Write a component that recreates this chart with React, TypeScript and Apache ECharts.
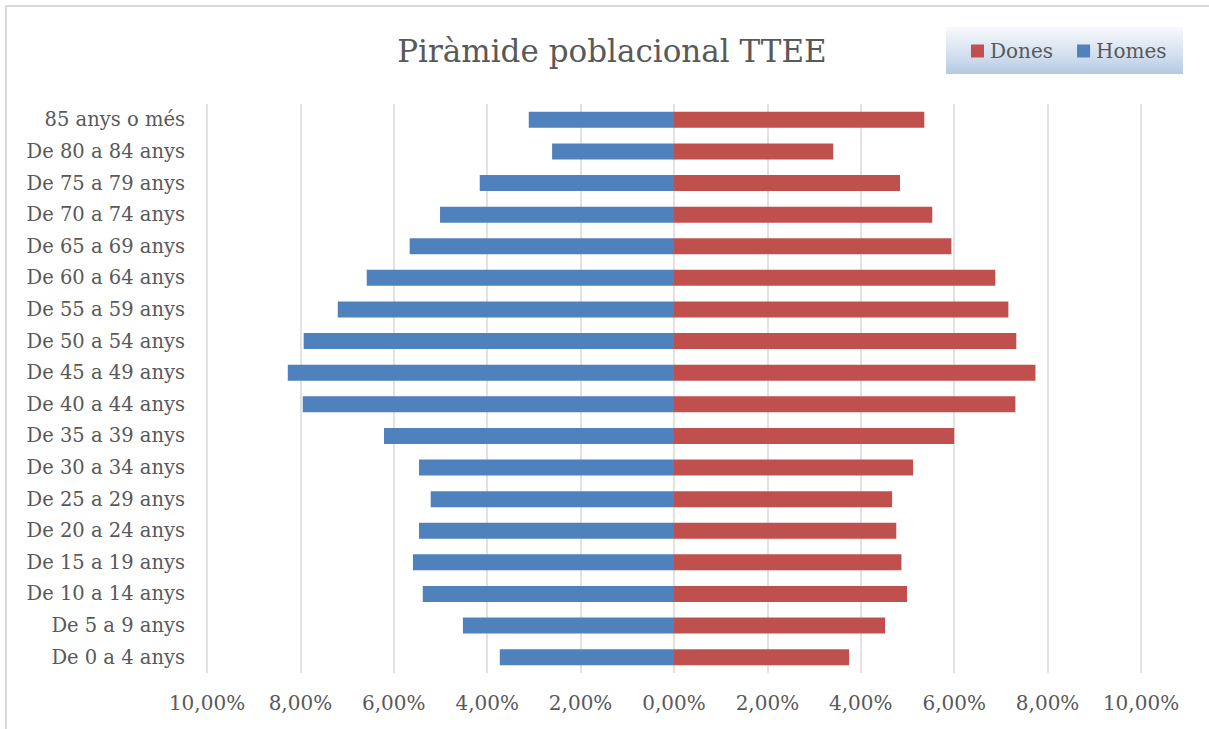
import React, { useEffect, useRef } from "react";
import * as echarts from "echarts";

const categories = [
  "De 0 a 4 anys",
  "De 5 a 9 anys",
  "De 10 a 14 anys",
  "De 15 a 19 anys",
  "De 20 a 24 anys",
  "De 25 a 29 anys",
  "De 30 a 34 anys",
  "De 35 a 39 anys",
  "De 40 a 44 anys",
  "De 45 a 49 anys",
  "De 50 a 54 anys",
  "De 55 a 59 anys",
  "De 60 a 64 anys",
  "De 65 a 69 anys",
  "De 70 a 74 anys",
  "De 75 a 79 anys",
  "De 80 a 84 anys",
  "85 anys o més",
];

// Percentages (Homes drawn to the left as negative values)
const homes = [3.73, 4.52, 5.38, 5.59, 5.46, 5.21, 5.46, 6.21, 7.95, 8.27, 7.93, 7.2, 6.58, 5.66, 5.01, 4.16, 2.61, 3.11];
const dones = [3.75, 4.52, 4.99, 4.87, 4.76, 4.67, 5.12, 6.0, 7.31, 7.74, 7.33, 7.16, 6.88, 5.94, 5.53, 4.84, 3.41, 5.36];

const titleText = "Piràmide poblacional TTEE";
const FONT = "'DejaVu Serif', serif";
const TEXT_COLOR = "#595959";

export default function App() {
  const ref = useRef<HTMLDivElement>(null);

  useEffect(() => {
    document.body.style.margin = "0";
    const chart = echarts.init(ref.current!, null, { renderer: "svg" });
    chart.setOption({
      animation: false,
      backgroundColor: "#ffffff",
      title: {
        text: titleText,
        left: 607,
        textAlign: "center",
        top: 30,
        textStyle: { fontFamily: FONT, fontSize: 31, fontWeight: "normal", color: TEXT_COLOR },
      },
      graphic: [
        {
          type: "rect",
          z: -10,
          shape: { x: 6, y: 6, width: 1215, height: 735 },
          style: { fill: "none", stroke: "#D9D9D9", lineWidth: 2 },
          silent: true,
        },
        {
          type: "rect",
          z: -5,
          shape: { x: 946, y: 27, width: 237, height: 47 },
          style: {
            fill: new echarts.graphic.LinearGradient(0, 0, 0, 1, [
              { offset: 0, color: "#F7F9FC" },
              { offset: 0.6, color: "#D3DFEE" },
              { offset: 1, color: "#B5C9E3" },
            ]),
          },
          silent: true,
        },
      ],
      legend: {
        data: ["Dones", "Homes"],
        left: 971,
        top: 41,
        padding: 0,
        itemWidth: 13,
        itemHeight: 13,
        itemGap: 24,
        icon: "rect",
        textStyle: { fontFamily: FONT, fontSize: 20, color: TEXT_COLOR, lineHeight: 20, padding: [0, 0, 0, 1] },
      },
      grid: { left: 207, right: 68, top: 104, bottom: 56 },
      xAxis: {
        type: "value",
        min: -10,
        max: 10,
        interval: 2,
        axisLine: { show: false },
        axisTick: { show: false },
        splitLine: { show: true, lineStyle: { color: "#D9D9D9", width: 1.5 } },
        axisLabel: {
          margin: 20,
          fontFamily: FONT,
          fontSize: 20,
          color: TEXT_COLOR,
          formatter: (v: number) => Math.abs(v).toFixed(2).replace(".", ",") + "%",
        },
      },
      yAxis: {
        type: "category",
        data: categories,
        axisLine: { show: false },
        axisTick: { show: false },
        axisLabel: { margin: 22, fontFamily: FONT, fontSize: 19.5, color: TEXT_COLOR },
      },
      series: [
        {
          name: "Homes",
          type: "bar",
          data: homes.map((v) => -v),
          barWidth: 16,
          barGap: "-100%",
          itemStyle: { color: "#4F81BD" },
        },
        {
          name: "Dones",
          type: "bar",
          data: dones,
          barWidth: 16,
          itemStyle: { color: "#C0504D" },
        },
      ],
    });
    return () => chart.dispose();
  }, []);

  return <div ref={ref} style={{ width: 1209, height: 729 }} />;
}
